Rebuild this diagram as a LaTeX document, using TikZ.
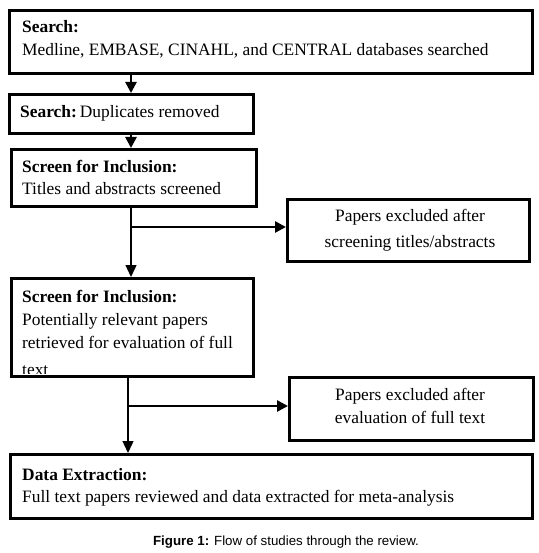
\documentclass[tikz,border=0pt]{standalone}
\usepackage{fontspec}
\setmainfont{Liberation Serif}
\newfontfamily\capfont{Liberation Sans}
\usetikzlibrary{arrows.meta}
\begin{document}
\begin{tikzpicture}[x=1pt,y={(0pt,-1pt)},
  boxstyle/.style={draw,line width=2.6pt,inner sep=0pt,anchor=north west},
  txt/.style={anchor=base west,inner sep=0pt,font=\fontsize{17.4}{20}\selectfont},
  ctxt/.style={anchor=base,inner sep=0pt,font=\fontsize{17.4}{20}\selectfont},
  thickarrow/.style={line width=2.6pt,-{Triangle[length=11pt,width=11pt]}},
  thinarrow/.style={line width=1.4pt,-{Triangle[length=12pt,width=11pt]}}]
\useasboundingbox (0,0) rectangle (538,553);
% boxes
\node[boxstyle,minimum width=523pt,minimum height=63pt] (b1) at (8,9) {};
\node[boxstyle,minimum width=244pt,minimum height=39pt] (b2) at (8,93) {};
\node[boxstyle,minimum width=245pt,minimum height=57pt] (b3) at (10,148) {};
\node[boxstyle,minimum width=242pt,minimum height=62pt] (e1) at (286,198) {};
\node[boxstyle,minimum width=242pt,minimum height=98pt] (b4) at (10,277) {};
\node[boxstyle,minimum width=244pt,minimum height=63pt] (e2) at (288,376) {};
\node[boxstyle,minimum width=522pt,minimum height=64pt] (b5) at (9,453) {};
% texts
\node[txt] (t1a) at (22,33) {\textbf{Search:}};
\node[txt] (t1b) at (22,56) {Medline, EMBASE, CINAHL, and CENTRAL databases searched};
\node[txt] (t2) at (20,118) {\textbf{Search:}\,Duplicates removed};
\node[txt] (t3a) at (22,173) {\textbf{Screen for Inclusion:}};
\node[txt] (t3b) at (22,195) {Titles and abstracts screened};
\node[ctxt] (e1a) at (410,221) {Papers excluded after};
\node[ctxt] (e1b) at (410,247) {screening titles/abstracts};
\node[txt] (t4a) at (22,302) {\textbf{Screen for Inclusion:}};
\node[txt] (t4b) at (22,325) {Potentially relevant papers};
\node[txt] (t4c) at (22,348) {retrieved for evaluation of full};
\begin{scope}
\clip (10,277) rectangle (252,373);
\node[txt] (t4d) at (22,375) {text};
\end{scope}
\node[ctxt] (e2a) at (410,400) {Papers excluded after};
\node[ctxt] (e2b) at (410,423) {evaluation of full text};
\node[txt] (t5a) at (22,480) {\textbf{Data Extraction:}};
\node[txt] (t5b) at (22,502) {Full text papers reviewed and data extracted for meta-analysis};
\node[anchor=base,inner sep=0pt,font=\capfont\fontsize{13.3}{15}\selectfont] (cap) at (286,545) {\textbf{Figure 1:} Flow of studies through the review.};
% connectors
\coordinate (x1) at (131,0);
\coordinate (j1) at (131,227);
\coordinate (j2) at (128,406);
\draw[thickarrow] (b1.south -| x1) -- (b2.north -| x1);
\draw[thickarrow] (b2.south -| x1) -- (b3.north -| x1);
\draw[thinarrow] (b3.south -| j1) -- (b4.north -| j1);
\draw[thickarrow] (j1) -- (j1 -| e1.west);
\draw[thinarrow] (b4.south -| j2) -- (b5.north -| j2);
\draw[thickarrow] (j2) -- (j2 -| e2.west);
\end{tikzpicture}
\end{document}
